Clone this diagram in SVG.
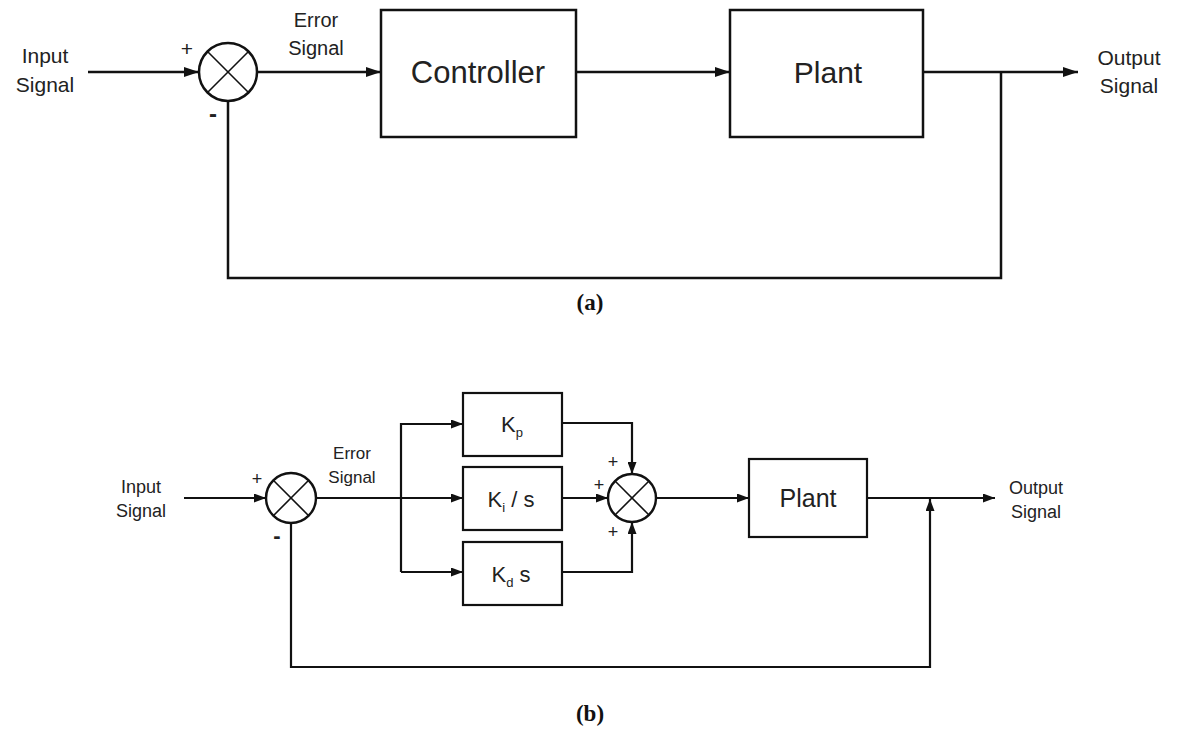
<svg xmlns="http://www.w3.org/2000/svg" width="1177" height="744" viewBox="0 0 1177 744">
<defs>
<style>
.bg{fill:#ffffff}
.box{fill:#ffffff;stroke:#111;stroke-width:2.5}
.boxb{fill:#ffffff;stroke:#111;stroke-width:2.2}
.sum{fill:#ffffff;stroke:#111;stroke-width:2.5}
.x{stroke:#111;stroke-width:1.6}
.wa{fill:none;stroke:#111;stroke-width:2.5}
.wb{fill:none;stroke:#111;stroke-width:2.2}
.t{font-family:"Liberation Sans",Arial,sans-serif;fill:#222;text-anchor:middle}
.cap{font-family:"Liberation Serif","Times New Roman",serif;font-weight:bold;fill:#111;text-anchor:middle;font-size:23px}
</style>
<marker id="arA" markerUnits="userSpaceOnUse" markerWidth="15" markerHeight="10" refX="15" refY="5" orient="auto">
<path d="M0,0 L15,5 L0,10 z" fill="#111"/>
</marker>
<marker id="arB" markerUnits="userSpaceOnUse" markerWidth="12" markerHeight="9" refX="12" refY="4.5" orient="auto">
<path d="M0,0 L12,4.5 L0,9 z" fill="#111"/>
</marker>
</defs>
<rect class="bg" x="0" y="0" width="1177" height="744"/>

<g id="connectors">
<path class="wa" d="M88,72 L199,72" marker-end="url(#arA)"/>
<path class="wa" d="M257,72 L381,72" marker-end="url(#arA)"/>
<path class="wa" d="M576,72 L730,72" marker-end="url(#arA)"/>
<path class="wa" d="M923,72 L1078,72" marker-end="url(#arA)"/>
<path class="wa" d="M1001,72 L1001,278 L228,278 L228,101"/>

<path class="wb" d="M184,498 L266,498" marker-end="url(#arB)"/>
<path class="wb" d="M316,498 L463,498" marker-end="url(#arB)"/>
<path class="wb" d="M463,424 L401,424 L401,572"/>
<path class="wb" d="M401,424 L463,424" marker-end="url(#arB)"/>
<path class="wb" d="M401,572 L463,572" marker-end="url(#arB)"/>
<path class="wb" d="M562,423 L632,423 L632,474" marker-end="url(#arB)"/>
<path class="wb" d="M562,498 L608,498" marker-end="url(#arB)"/>
<path class="wb" d="M562,572 L632,572 L632,522" marker-end="url(#arB)"/>
<path class="wb" d="M656,498 L749,498" marker-end="url(#arB)"/>
<path class="wb" d="M867,498 L995,498" marker-end="url(#arB)"/>
<path class="wb" d="M291,523 L291,667 L930,667 L930,499" marker-end="url(#arB)"/>
</g>

<g id="a-input-label">
<text class="t" x="45" y="63" font-size="21">Input</text>
<text class="t" x="45" y="92" font-size="21">Signal</text>
</g>
<g id="a-sum">
<circle class="sum" cx="228" cy="72" r="29"/>
<line class="x" x1="207.5" y1="51.5" x2="248.5" y2="92.5"/>
<line class="x" x1="248.5" y1="51.5" x2="207.5" y2="92.5"/>
<text class="t" x="187" y="56" font-size="21">+</text>
<text class="t" x="213" y="122" font-size="24" font-weight="bold">-</text>
</g>
<g id="a-error-label">
<text class="t" x="316" y="27" font-size="20">Error</text>
<text class="t" x="316" y="55" font-size="20">Signal</text>
</g>
<g id="a-controller">
<rect class="box" x="381" y="10" width="195" height="127"/>
<text class="t" x="478" y="83" font-size="31">Controller</text>
</g>
<g id="a-plant">
<rect class="box" x="730" y="10" width="193" height="127"/>
<text class="t" x="828" y="83" font-size="30">Plant</text>
</g>
<g id="a-output-label">
<text class="t" x="1129" y="65" font-size="21">Output</text>
<text class="t" x="1129" y="93" font-size="21">Signal</text>
</g>
<text class="cap" x="590" y="310">(a)</text>

<g id="b-input-label">
<text class="t" x="141" y="493" font-size="18">Input</text>
<text class="t" x="141" y="517" font-size="18">Signal</text>
</g>
<g id="b-sum1">
<circle class="sum" cx="291" cy="498" r="25"/>
<line class="x" x1="273.3" y1="480.3" x2="308.7" y2="515.7"/>
<line class="x" x1="308.7" y1="480.3" x2="273.3" y2="515.7"/>
<text class="t" x="257" y="485" font-size="18">+</text>
<text class="t" x="277" y="543" font-size="22" font-weight="bold">-</text>
</g>
<g id="b-error-label">
<text class="t" x="352" y="459" font-size="17">Error</text>
<text class="t" x="352" y="483" font-size="17">Signal</text>
</g>
<g id="b-kp">
<rect class="boxb" x="463" y="393" width="99" height="63"/>
<text class="t" x="512" y="432" font-size="22">K<tspan font-size="13" dy="5">p</tspan></text>
</g>
<g id="b-ki">
<rect class="boxb" x="463" y="467" width="99" height="63"/>
<text class="t" x="511" y="507" font-size="22">K<tspan font-size="13" dy="5">i</tspan><tspan dy="-5"> / s</tspan></text>
</g>
<g id="b-kd">
<rect class="boxb" x="463" y="542" width="99" height="63"/>
<text class="t" x="511" y="582" font-size="22">K<tspan font-size="13" dy="5">d</tspan><tspan dy="-5"> s</tspan></text>
</g>
<g id="b-sum2">
<circle class="sum" cx="632" cy="498" r="24"/>
<line class="x" x1="615" y1="481" x2="649" y2="515"/>
<line class="x" x1="649" y1="481" x2="615" y2="515"/>
<text class="t" x="613" y="468" font-size="18">+</text>
<text class="t" x="599" y="491" font-size="18">+</text>
<text class="t" x="613" y="538" font-size="18">+</text>
</g>
<g id="b-plant">
<rect class="boxb" x="749" y="459" width="118" height="78"/>
<text class="t" x="808" y="507" font-size="25">Plant</text>
</g>
<g id="b-output-label">
<text class="t" x="1036" y="494" font-size="18">Output</text>
<text class="t" x="1036" y="518" font-size="18">Signal</text>
</g>
<text class="cap" x="590" y="721">(b)</text>
</svg>
